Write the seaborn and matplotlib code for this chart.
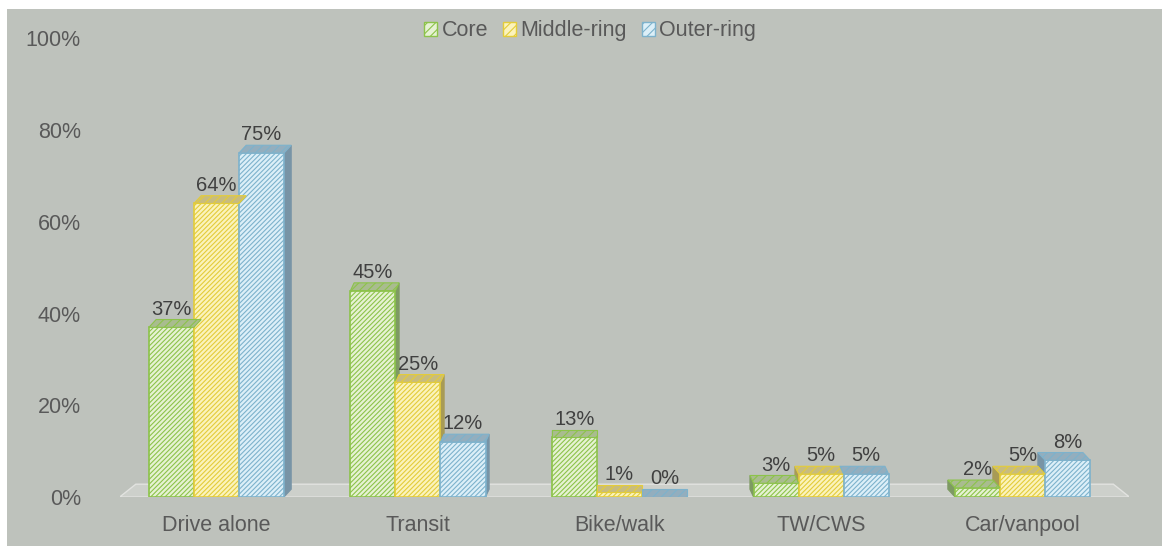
import matplotlib.pyplot as plt
import matplotlib.patches as mpatches
import numpy as np
import pandas as pd
import seaborn as sns

# -----------------------------------------------------
# DATA
# -----------------------------------------------------
modes = ["Drive alone", "Transit", "Bike/walk", "TW/CWS", "Car/vanpool"]
rings = ["Core", "Middle-ring", "Outer-ring"]
core = [37, 45, 13, 3, 2]
middle = [64, 25, 1, 5, 5]
outer = [75, 12, 0, 5, 8]
y_ticks = [0, 20, 40, 60, 80, 100]

# face, edge (hatch), top face, side face
face_colors = ["#E6F2D3", "#FBF3BC", "#DCEFF8"]
edge_colors = ["#8CC34A", "#E3CC3A", "#7DB2CC"]
top_colors = ["#A9BC8F", "#C8BC7E", "#93AEBE"]
side_colors = ["#7E9A63", "#A89B55", "#7894A6"]

TEXT = "#595959"
BG = "#BEC2BC"

rows = []
for i, m in enumerate(modes):
    for ring, vals in zip(rings, [core, middle, outer]):
        rows.append({"Mode": m, "Ring": ring, "Share": vals[i]})
df = pd.DataFrame(rows)

sns.set_theme(style="white")
plt.rcParams["font.family"] = ["Liberation Sans", "DejaVu Sans"]
plt.rcParams["hatch.linewidth"] = 0.8

fig = plt.figure(figsize=(11.62, 5.46), dpi=100, facecolor="white")
# grey chart area (white strips top and left)
bg = mpatches.Rectangle((7 / 1162, 0), 1, (546 - 9) / 546,
                        transform=fig.transFigure, facecolor=BG,
                        edgecolor="none", zorder=-10)
fig.patches.append(bg)

ax = fig.add_axes([0.103, 0.0897, 0.869, 0.840])
ax.set_zorder(1)
ax.set_facecolor("none")

sns.barplot(data=df, x="Mode", y="Share", hue="Ring", hue_order=rings,
            order=modes, width=0.67, dodge=True, ax=ax, legend=False,
            saturation=1, zorder=3)

xlo, xhi = -0.48, 4.53
ax.set_xlim(xlo, xhi)
ax.set_ylim(0, 100)

# floor slab
dy = 1.7
floor = mpatches.Polygon([(xlo, 0), (xhi, 0), (xhi - 0.08, 2.8),
                          (xlo + 0.08, 2.8)], closed=True,
                         facecolor="#CDD0CB", edgecolor="#E2E3E0",
                         linewidth=1.0, zorder=1)
ax.add_patch(floor)

n = len(modes)
for k, container in enumerate(ax.containers):
    for i, bar in enumerate(container):
        x = bar.get_x()
        w = bar.get_width()
        h = bar.get_height()
        dx = -(i - (n - 1) / 2) * 0.018
        bar.set_facecolor(face_colors[k])
        bar.set_edgecolor(edge_colors[k])
        bar.set_hatch("///////")
        bar.set_linewidth(1.2)

        # side face toward the centre of the chart
        sx = x + w if dx > 0 else x
        side = mpatches.Polygon([(sx, 0), (sx, h), (sx + dx, h + dy),
                                 (sx + dx, dy)], closed=True,
                                facecolor=side_colors[k],
                                edgecolor=side_colors[k], linewidth=0.8,
                                zorder=2)
        ax.add_patch(side)
        # top face
        top = mpatches.Polygon([(x, h), (x + w, h), (x + w + dx, h + dy),
                                (x + dx, h + dy)], closed=True,
                               facecolor=top_colors[k],
                               edgecolor=edge_colors[k], hatch="////",
                               linewidth=0.8, zorder=4)
        ax.add_patch(top)

        ax.text(x + w / 2, h + dy + 0.2, f"{h:.0f}%", ha="center",
                va="bottom", fontsize=14.5, color="#404040", zorder=5)

ax.set_yticks(y_ticks)
ax.set_yticklabels([f"{t}%" for t in y_ticks])
ax.tick_params(axis="y", length=0, pad=28, labelsize=15.5, labelcolor=TEXT)
ax.tick_params(axis="x", length=0, pad=13, labelsize=15.5, labelcolor=TEXT)
ax.set_xlabel("")
ax.set_ylabel("")
sns.despine(ax=ax, left=True, bottom=True)

handles = [mpatches.Patch(facecolor=face_colors[k], edgecolor=edge_colors[k],
                          hatch="////", label=rings[k]) for k in range(3)]
fig.legend(handles=handles, loc="upper center", ncol=3, frameon=False,
           bbox_to_anchor=(0.508, 0.998), fontsize=15.5, labelcolor=TEXT,
           handlelength=0.6, handleheight=0.6, handletextpad=0.2,
           columnspacing=0.7)

fig.savefig("out.png", dpi=100, facecolor=fig.get_facecolor())
